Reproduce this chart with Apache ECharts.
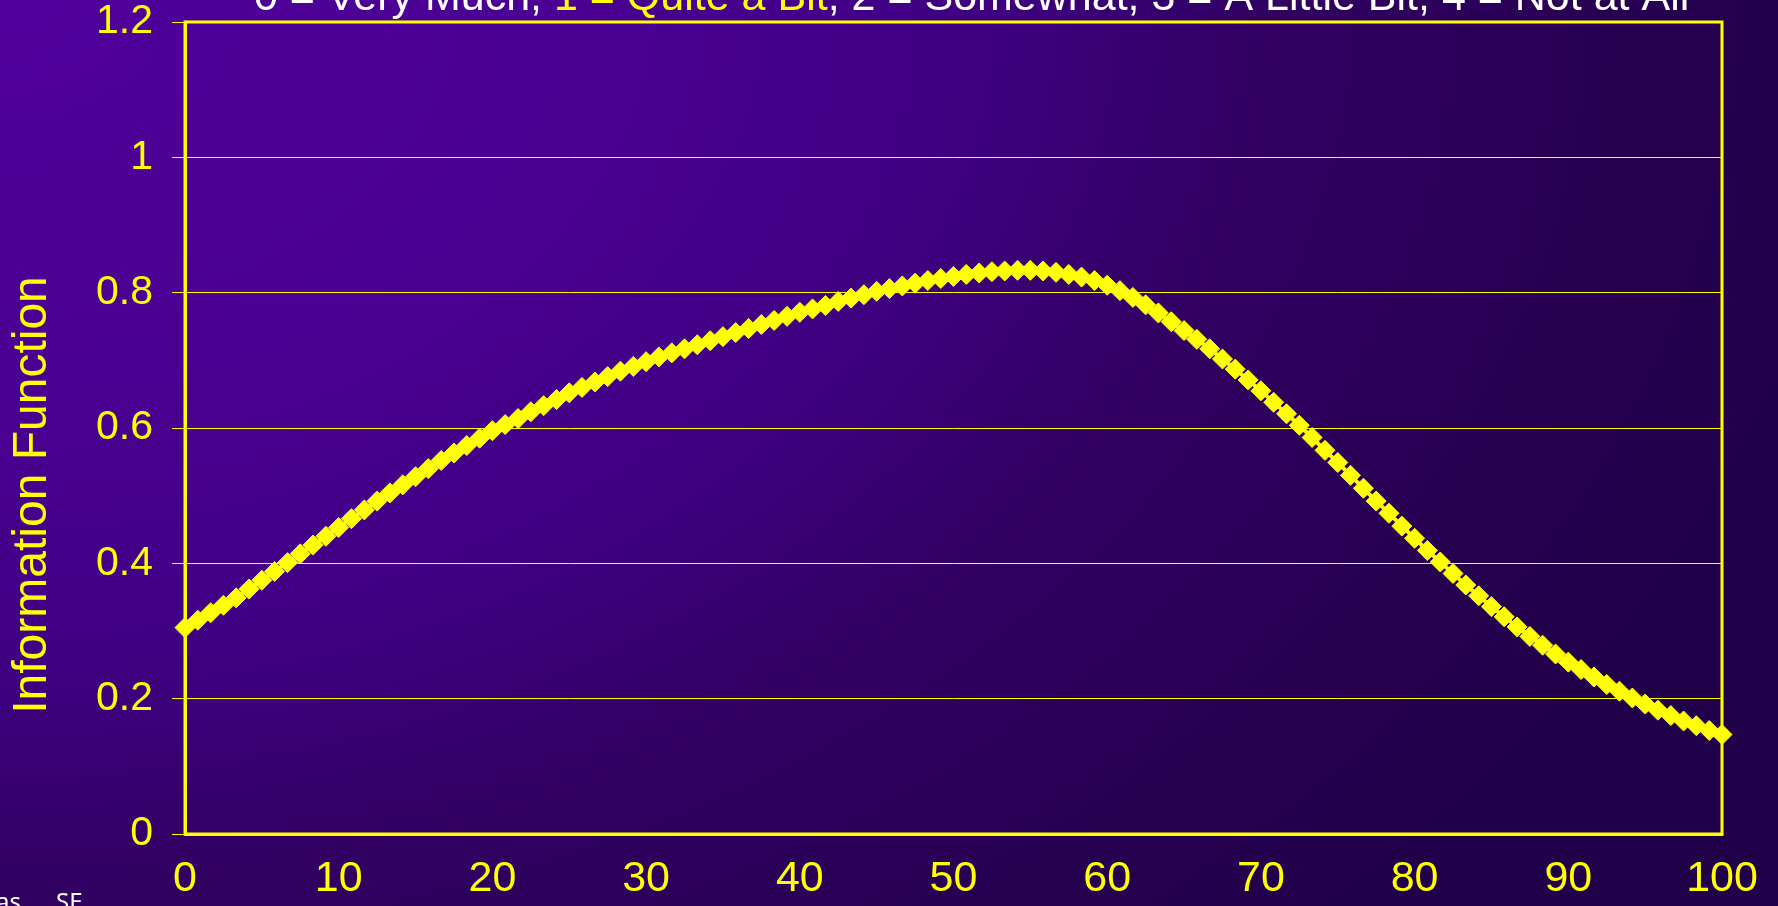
<!DOCTYPE html>
<html>
<head>
<meta charset="utf-8">
<script src="https://cdn.jsdelivr.net/npm/echarts@6/dist/echarts.min.js"></script>
<style>
html,body{margin:0;padding:0;width:1778px;height:906px;overflow:hidden;}
body{background:radial-gradient(ellipse 1870px 1300px at 0 0,#52009c 0%,#4a0092 30%,#420086 48%,#3b0078 57%,#35006c 62%,#310062 68%,#2b0058 80%,#25004f 90%,#21004a 100%);}
#chart{width:1778px;height:906px;}
</style>
</head>
<body>
<div id="chart"></div>
<script>
const xValues = [0,0.83,1.67,2.5,3.33,4.17,5,5.83,6.67,7.5,8.33,9.17,10,10.83,11.67,12.5,13.33,14.17,15,15.83,16.67,17.5,18.33,19.17,20,20.83,21.67,22.5,23.33,24.17,25,25.83,26.67,27.5,28.33,29.17,30,30.83,31.67,32.5,33.33,34.17,35,35.83,36.67,37.5,38.33,39.17,40,40.83,41.67,42.5,43.33,44.17,45,45.83,46.67,47.5,48.33,49.17,50,50.83,51.67,52.5,53.33,54.17,55,55.83,56.67,57.5,58.33,59.17,60,60.83,61.67,62.5,63.33,64.17,65,65.83,66.67,67.5,68.33,69.17,70,70.83,71.67,72.5,73.33,74.17,75,75.83,76.67,77.5,78.33,79.17,80,80.83,81.67,82.5,83.33,84.17,85,85.83,86.67,87.5,88.33,89.17,90,90.83,91.67,92.5,93.33,94.17,95,95.83,96.67,97.5,98.33,99.17,100];
const infoValues = [0.305,0.316,0.327,0.338,0.349,0.362,0.375,0.388,0.401,0.414,0.427,0.440,0.453,0.466,0.479,0.492,0.504,0.516,0.528,0.540,0.552,0.563,0.574,0.585,0.596,0.605,0.614,0.624,0.633,0.642,0.652,0.660,0.668,0.676,0.684,0.691,0.698,0.705,0.711,0.717,0.723,0.729,0.735,0.741,0.747,0.753,0.759,0.765,0.771,0.776,0.781,0.787,0.792,0.797,0.802,0.806,0.810,0.814,0.818,0.821,0.824,0.827,0.829,0.831,0.832,0.833,0.833,0.832,0.830,0.827,0.823,0.818,0.811,0.803,0.793,0.782,0.770,0.757,0.744,0.731,0.717,0.702,0.687,0.671,0.655,0.638,0.621,0.604,0.586,0.567,0.549,0.530,0.511,0.492,0.474,0.455,0.437,0.419,0.402,0.385,0.368,0.352,0.336,0.321,0.306,0.292,0.279,0.266,0.254,0.243,0.232,0.221,0.211,0.201,0.192,0.183,0.175,0.167,0.160,0.153,0.147];
const xTickLabels = ['0','10','20','30','40','50','60','70','80','90','100'];
const yTickLabels = ['0','0.2','0.4','0.6','0.8','1','1.2'];
const titleParts = ['0 = Very Much; ', '1 = Quite a Bit', '; 2 = Somewhat; 3 = A Little Bit; 4 = Not at All'];
const yAxisName = 'Information Function';

const FONT = '"Liberation Sans", Arial, sans-serif';
const YEL = '#ffff00';
const chart = echarts.init(document.getElementById('chart'));
chart.setOption({
  backgroundColor: 'transparent',
  animation: false,
  grid: {left: 185, right: 56, top: 22, bottom: 72, show: true, borderColor: YEL, borderWidth: 3, backgroundColor: 'transparent'},
  xAxis: {
    type: 'value', min: 0, max: 100, interval: 10,
    axisLine: {lineStyle: {color: YEL, width: 3}},
    axisTick: {show: false},
    splitLine: {show: false},
    axisLabel: {color: YEL, fontSize: 43, fontFamily: FONT, margin: 24,
      formatter: v => xTickLabels[Math.round(v / 10)]}
  },
  yAxis: {
    type: 'value', min: 0, max: 1.2, interval: 0.2,
    axisLine: {show: true, lineStyle: {color: YEL, width: 3}},
    axisTick: {show: true, length: 13, lineStyle: {color: YEL, width: 1}},
    splitLine: {show: true, lineStyle: {color: YEL, width: 1}},
    axisLabel: {color: YEL, fontSize: 41, fontFamily: FONT, margin: 32,
      formatter: v => yTickLabels[Math.round(v / 0.2)]}
  },
  series: [{
    type: 'line',
    data: xValues.map((x, i) => [x, infoValues[i]]),
    symbol: 'diamond', symbolSize: 20, showAllSymbol: true,
    itemStyle: {color: YEL, borderColor: YEL, borderWidth: 1},
    lineStyle: {color: YEL, width: 4},
    z: 5
  }],
  graphic: [
    {type: 'text', left: 254, top: -23, style: {
      text: '{w|' + titleParts[0] + '}{y|' + titleParts[1] + '}{w|' + titleParts[2] + '}',
      rich: {
        w: {fill: '#ffffff', fontSize: 43, fontFamily: FONT},
        y: {fill: YEL, fontSize: 43, fontFamily: FONT}
      }
    }},
    {type: 'text', x: 33, y: 495, rotation: Math.PI / 2, style: {
      text: yAxisName, fill: YEL, fontSize: 48, fontFamily: FONT,
      align: 'center', verticalAlign: 'middle',
      textShadowColor: '#1a0030', textShadowOffsetX: 2, textShadowOffsetY: 2, textShadowBlur: 0
    }},
    {type: 'text', x: -4, y: 891, style: {text: 'as', fill: '#ffffff', fontSize: 24, fontFamily: '"Noto Sans", sans-serif'}},
    {type: 'text', x: 56, y: 891, style: {text: 'SE', fill: '#ffffff', fontSize: 24, fontFamily: '"Noto Sans", sans-serif'}}
  ]
});
</script>
</body>
</html>
